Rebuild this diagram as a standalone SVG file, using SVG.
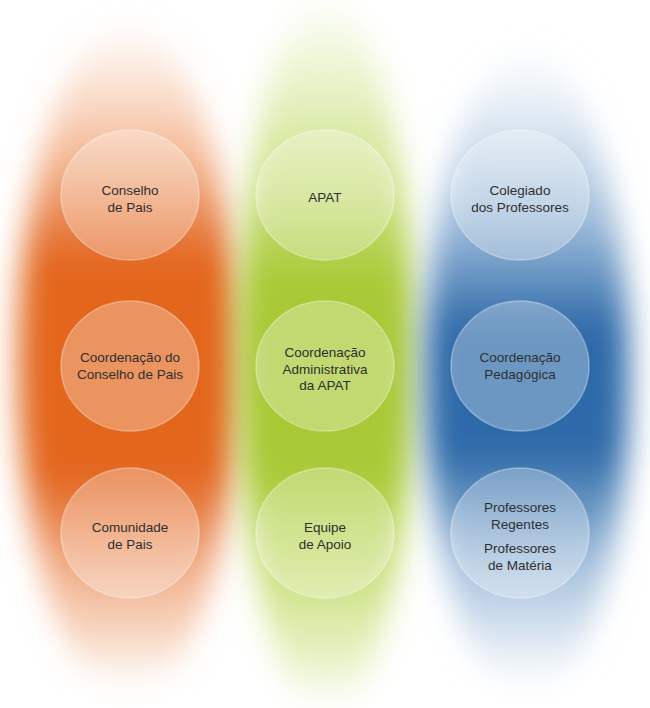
<svg xmlns="http://www.w3.org/2000/svg" width="650" height="708" viewBox="0 0 650 708">
<defs>
<style>
.node{fill:#ffffff;fill-opacity:0.3;stroke:#ffffff;stroke-opacity:0.35;stroke-width:1.5}
.lbl{font-family:"Liberation Sans",Arial,sans-serif;font-size:13.5px;fill:#2f2f2f;text-anchor:middle}
</style>
<filter id="blur" x="-60%" y="-20%" width="220%" height="140%">
<feGaussianBlur stdDeviation="15"/>
</filter>
<linearGradient id="gOrange" x1="0" y1="0" x2="0" y2="1">
<stop offset="0" stop-color="#fbe6da" stop-opacity="0.2"/>
<stop offset="0.08" stop-color="#fadccb" stop-opacity="0.8"/>
<stop offset="0.2" stop-color="#f3b792" stop-opacity="1"/>
<stop offset="0.35" stop-color="#e3661f"/>
<stop offset="0.67" stop-color="#e3661f"/>
<stop offset="0.8" stop-color="#f0aa82"/>
<stop offset="0.93" stop-color="#f9dccb" stop-opacity="0.9"/>
<stop offset="1" stop-color="#ffffff" stop-opacity="0.2"/>
</linearGradient>
<linearGradient id="gGreen" x1="0" y1="0" x2="0" y2="1">
<stop offset="0" stop-color="#f4f9e6" stop-opacity="0.3"/>
<stop offset="0.08" stop-color="#eef6d6" stop-opacity="0.9"/>
<stop offset="0.24" stop-color="#d0e48f"/>
<stop offset="0.4" stop-color="#a8c934"/>
<stop offset="0.66" stop-color="#a8c934"/>
<stop offset="0.8" stop-color="#c9e07b"/>
<stop offset="0.94" stop-color="#eaf3cb" stop-opacity="0.9"/>
<stop offset="1" stop-color="#ffffff" stop-opacity="0.3"/>
</linearGradient>
<linearGradient id="gBlue" x1="0" y1="0" x2="0" y2="1">
<stop offset="0" stop-color="#e8eff7" stop-opacity="0.2"/>
<stop offset="0.1" stop-color="#dce7f2" stop-opacity="0.9"/>
<stop offset="0.27" stop-color="#9ab8d8"/>
<stop offset="0.43" stop-color="#2e6ba9"/>
<stop offset="0.62" stop-color="#2e6ba9"/>
<stop offset="0.78" stop-color="#9dbbd9"/>
<stop offset="0.93" stop-color="#e1eaf4" stop-opacity="0.9"/>
<stop offset="1" stop-color="#ffffff" stop-opacity="0.2"/>
</linearGradient>
</defs>
<rect width="650" height="708" fill="#ffffff"/>
<g id="columns">
<ellipse cx="128" cy="362" rx="110" ry="335" fill="url(#gOrange)" filter="url(#blur)"/>
<ellipse cx="326" cy="356" rx="88" ry="358" fill="url(#gGreen)" filter="url(#blur)"/>
<ellipse cx="527" cy="375" rx="102" ry="322" fill="url(#gBlue)" filter="url(#blur)"/>
</g>
<g id="conselho-de-pais">
<ellipse class="node" cx="130" cy="195" rx="69" ry="65"/>
<text class="lbl" x="130" y="195">Conselho</text>
<text class="lbl" x="130" y="211.5">de Pais</text>
</g>
<g id="apat">
<ellipse class="node" cx="325" cy="195" rx="69" ry="65"/>
<text class="lbl" x="325" y="202">APAT</text>
</g>
<g id="colegiado">
<ellipse class="node" cx="520" cy="195" rx="69" ry="65"/>
<text class="lbl" x="520" y="195">Colegiado</text>
<text class="lbl" x="520" y="211.5">dos Professores</text>
</g>
<g id="coordenacao-conselho">
<ellipse class="node" cx="130" cy="366" rx="69" ry="65"/>
<text class="lbl" x="130" y="362">Coordenação do</text>
<text class="lbl" x="130" y="378.5">Conselho de Pais</text>
</g>
<g id="coordenacao-administrativa">
<ellipse class="node" cx="325" cy="366" rx="69" ry="65"/>
<text class="lbl" x="325" y="357">Coordenação</text>
<text class="lbl" x="325" y="373.5">Administrativa</text>
<text class="lbl" x="325" y="390">da APAT</text>
</g>
<g id="coordenacao-pedagogica">
<ellipse class="node" cx="520" cy="366" rx="69" ry="65"/>
<text class="lbl" x="520" y="362">Coordenação</text>
<text class="lbl" x="520" y="378.5">Pedagógica</text>
</g>
<g id="comunidade-de-pais">
<ellipse class="node" cx="130" cy="533" rx="69" ry="65"/>
<text class="lbl" x="130" y="532">Comunidade</text>
<text class="lbl" x="130" y="548.5">de Pais</text>
</g>
<g id="equipe-de-apoio">
<ellipse class="node" cx="325" cy="533" rx="69" ry="65"/>
<text class="lbl" x="325" y="532">Equipe</text>
<text class="lbl" x="325" y="548.5">de Apoio</text>
</g>
<g id="professores">
<ellipse class="node" cx="520" cy="533" rx="69" ry="65"/>
<text class="lbl" x="520" y="512">Professores</text>
<text class="lbl" x="520" y="528.5">Regentes</text>
<text class="lbl" x="520" y="553">Professores</text>
<text class="lbl" x="520" y="569.5">de Matéria</text>
</g>
</svg>
